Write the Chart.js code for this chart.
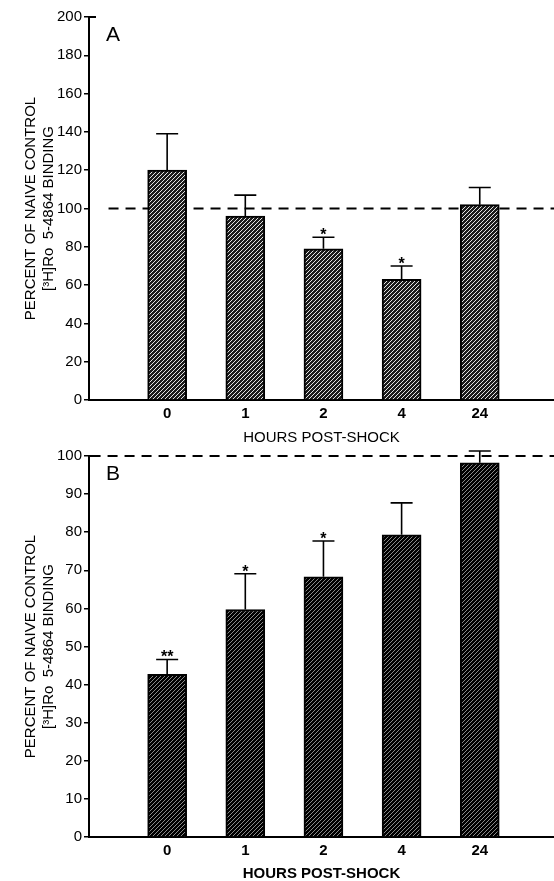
<!DOCTYPE html>
<html lang="en">
<head>
<meta charset="UTF-8">
<title>Ro 5-4864 binding after shock</title>
<script src="https://cdn.jsdelivr.net/npm/chart.js"></script>
<style>
    body { margin: 0; background: #fff; width: 554px; height: 881px; overflow: hidden; }
    .panel { position: absolute; left: 0; width: 554px; }
    #panelA { top: 0; height: 445px; }
    #panelB { top: 445px; height: 436px; }
</style>
</head>
<body>
<div class="panel" id="panelA"><canvas id="chartA" width="554" height="445"></canvas></div>
<div class="panel" id="panelB"><canvas id="chartB" width="554" height="436"></canvas></div>
<script>
// x categories (hours post-shock)
const hours = ['0', '1', '2', '4', '24'];

// Panel A: percent of naive control, with SEM and significance marks
const bindingA = [120, 96, 79, 63, 102];
const semA = [19, 11, 6, 7, 9];
const starsA = ['', '', '*', '*', ''];

// Panel B
const bindingB = [42.7, 59.7, 68.3, 79.3, 98.2];
const semB = [3.9, 9.4, 9.4, 8.4, 3.1];
const starsB = ['**', '*', '*', '', ''];

const controlLevel = 100;
const FONT = '"Liberation Sans", Arial, Helvetica, sans-serif';

function hatch(bg, fg) {
    const c = document.createElement('canvas');
    c.width = 4; c.height = 4;
    const g = c.getContext('2d');
    g.fillStyle = bg;
    g.fillRect(0, 0, 4, 4);
    g.strokeStyle = fg;
    g.lineWidth = 1;
    g.beginPath();
    g.moveTo(-1, 5); g.lineTo(5, -1);
    g.stroke();
    return g.createPattern(c, 'repeat');
}

// dashed control line, drawn under the bars
const controlLine = {
    id: 'controlLine',
    beforeDatasetsDraw(chart, args, opts) {
        const { ctx, chartArea, scales } = chart;
        const y = scales.y.getPixelForValue(controlLevel);
        ctx.save();
        ctx.strokeStyle = '#000';
        ctx.lineWidth = 2;
        ctx.setLineDash([10, 7]);
        ctx.beginPath();
        ctx.moveTo(scales.x.getPixelForValue(opts.from), y);
        ctx.lineTo(chartArea.right, y);
        ctx.stroke();
        ctx.restore();
    }
};

// SEM bars (upper only), significance stars, panel letter
const extras = {
    id: 'extras',
    afterDatasetsDraw(chart, args, opts) {
        const { ctx, chartArea, scales } = chart;
        const meta = chart.getDatasetMeta(0);
        const values = chart.data.datasets[0].data;
        ctx.save();
        ctx.strokeStyle = '#000';
        ctx.fillStyle = '#000';
        ctx.lineWidth = 1.6;
        meta.data.forEach((bar, i) => {
            const top = scales.y.getPixelForValue(values[i].y + opts.sem[i]);
            ctx.beginPath();
            ctx.moveTo(bar.x, bar.y);
            ctx.lineTo(bar.x, top);
            ctx.moveTo(bar.x - 11, top);
            ctx.lineTo(bar.x + 11, top);
            ctx.stroke();
            if (opts.stars[i]) {
                ctx.font = 'bold 16px ' + FONT;
                ctx.textAlign = 'center';
                ctx.textBaseline = 'alphabetic';
                ctx.fillText(opts.stars[i], bar.x, top + 3);
            }
        });
        // small tick to the right at the top of the y axis
        ctx.lineWidth = 2;
        ctx.beginPath();
        ctx.moveTo(chartArea.left, chartArea.top);
        ctx.lineTo(chartArea.left + 7, chartArea.top);
        ctx.stroke();
        ctx.font = '21px ' + FONT;
        ctx.textAlign = 'left';
        ctx.textBaseline = 'top';
        ctx.fillText(opts.letter, chartArea.left + opts.letterDx, chartArea.top + opts.letterDy);
        ctx.restore();
    }
};

function makeChart(id, values, sem, stars, cfg) {
    return new Chart(document.getElementById(id), {
        type: 'bar',
        data: {
            datasets: [{
                data: values.map((v, i) => ({ x: i, y: v })),
                backgroundColor: cfg.fill,
                borderColor: '#000',
                borderWidth: 2,
                barThickness: 39
            }]
        },
        options: {
            responsive: false,
            animation: false,
            layout: { padding: { top: cfg.padTop, left: 0, right: 0, bottom: 0 } },
            plugins: {
                legend: { display: false },
                tooltip: { enabled: false },
                controlLine: { from: cfg.dashFrom },
                extras: { sem: sem, stars: stars, letter: cfg.letter, letterDx: 17, letterDy: cfg.letterDy }
            },
            scales: {
                x: {
                    type: 'linear',
                    offset: false,
                    min: -1,
                    max: 4.95,
                    afterBuildTicks: s => { s.ticks = hours.map((h, i) => ({ value: i })); },
                    afterFit: s => { s.height = cfg.xHeight; },
                    grid: { display: false, drawTicks: false, offset: false },
                    border: { display: true, color: '#000', width: 2 },
                    ticks: {
                        color: '#000',
                        padding: 5,
                        font: { family: FONT, size: 15, weight: 'bold' },
                        callback: v => hours[v]
                    },
                    title: {
                        display: true,
                        text: 'HOURS POST-SHOCK',
                        color: '#000',
                        padding: { top: 0, bottom: 0 },
                        font: { family: FONT, size: 15, weight: cfg.xTitleWeight, lineHeight: 1 }
                    }
                },
                y: {
                    min: 0,
                    max: cfg.yMax,
                    afterFit: s => { s.width = 89; },
                    grid: { display: true, drawOnChartArea: false, drawTicks: true, tickLength: 5, color: '#000', lineWidth: 1.5 },
                    border: { display: true, color: '#000', width: 2 },
                    ticks: { stepSize: cfg.yStep, color: '#000', padding: 2, font: { family: FONT, size: 15 } },
                    title: {
                        display: true,
                        text: ['PERCENT OF NAIVE CONTROL', '[\u00B3H]Ro  5-4864 BINDING'],
                        color: '#000',
                        padding: { top: 22, bottom: 0 },
                        font: { family: FONT, size: 15, lineHeight: 1.2 }
                    }
                }
            }
        },
        plugins: [controlLine, extras]
    });
}

makeChart('chartA', bindingA, semA, starsA, {
    fill: hatch('#1c1c1c', '#e4e4e4'),
    padTop: 17, xHeight: 45, yMax: 200, yStep: 20,
    dashFrom: -0.75, letter: 'A', letterDy: 8, xTitleWeight: 'normal'
});

makeChart('chartB', bindingB, semB, starsB, {
    fill: hatch('#000', '#8a8a8a'),
    padTop: 10, xHeight: 44, yMax: 100, yStep: 10,
    dashFrom: -0.98, letter: 'B', letterDy: 8, xTitleWeight: 'bold'
});
</script>
</body>
</html>
